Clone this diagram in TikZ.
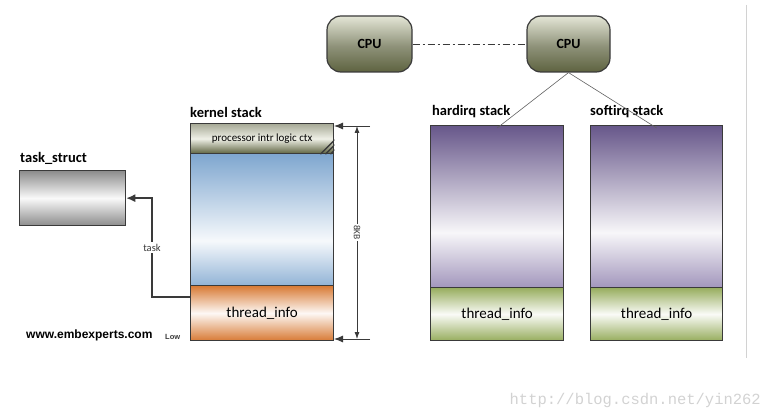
\documentclass[tikz,border=0pt]{standalone}
\usepackage{fontspec}
\setmainfont{Carlito}
\newfontfamily\webfont{Liberation Sans}
\newfontfamily\wmfont{Liberation Mono}
\usetikzlibrary{arrows.meta}

\definecolor{olivedk}{HTML}{5E6340}
\definecolor{olivelt}{HTML}{E4E6D6}
\definecolor{bluestk}{HTML}{7EA6CF}
\definecolor{orangeti}{HTML}{D87A35}
\definecolor{purpdk}{HTML}{67578A}
\definecolor{purplt}{HTML}{A296BC}
\definecolor{greenti}{HTML}{97AD5E}
\definecolor{grayts}{HTML}{8C8C8C}
\definecolor{edge}{HTML}{3A3A3A}

% shadings, bottom (25bp) to top (75bp) of the node
\pgfdeclareverticalshading{cpushade}{100bp}{color(0bp)=(olivedk); color(25bp)=(olivedk); color(48bp)=(olivedk!70!white); color(75bp)=(olivelt); color(100bp)=(olivelt)}
\pgfdeclareverticalshading{ctxshade}{100bp}{color(0bp)=(olivedk); color(25bp)=(olivedk); color(50bp)=(olivelt!60!white); color(75bp)=(olivedk!55!white); color(100bp)=(olivedk!55!white)}
\pgfdeclareverticalshading{blueshade}{100bp}{color(0bp)=(bluestk!85); color(25bp)=(bluestk!85); color(42bp)=(white!93!bluestk); color(75bp)=(bluestk); color(100bp)=(bluestk)}
\pgfdeclareverticalshading{orangeshade}{100bp}{color(0bp)=(orangeti); color(25bp)=(orangeti); color(50bp)=(white!95!orangeti); color(75bp)=(orangeti); color(100bp)=(orangeti)}
\pgfdeclareverticalshading{purpshade}{100bp}{color(0bp)=(purplt); color(25bp)=(purplt); color(42bp)=(white!95!purpdk); color(75bp)=(purpdk); color(100bp)=(purpdk)}
\pgfdeclareverticalshading{greenshade}{100bp}{color(0bp)=(greenti); color(25bp)=(greenti); color(50bp)=(white!95!greenti); color(75bp)=(greenti); color(100bp)=(greenti)}
\pgfdeclareverticalshading{grayshade}{100bp}{color(0bp)=(grayts); color(25bp)=(grayts); color(50bp)=(white!95!grayts); color(75bp)=(grayts); color(100bp)=(grayts)}

\tikzset{
  part/.style={draw=edge, line width=1.3pt, inner sep=0pt, anchor=north west,
    font=\fontsize{15}{17}\selectfont},
  cpubox/.style={draw=edge, line width=1.2pt, rounded corners=14pt, shading=cpushade,
    minimum height=56pt, font=\bfseries\fontsize{14}{16}\selectfont},
  title/.style={anchor=south west, inner sep=0pt, font=\bfseries\fontsize{14.5}{16}\selectfont},
}

\begin{document}
\begin{tikzpicture}[x=1pt,y=-1pt]
\useasboundingbox (0,0) rectangle (772,417);

% cpus
\node[cpubox, minimum width=85pt] (cpuA) at (369.5,44) {CPU};
\node[cpubox, minimum width=83pt] (cpuB) at (568.5,44) {CPU};
\draw[edge, line width=0.8pt, dash pattern=on 7pt off 3pt on 2pt off 3pt] (cpuA) -- (cpuB);

% kernel stack
\node[title] (klabel) at (190,118) {kernel stack};
\node[part, shading=ctxshade, minimum width=143pt, minimum height=30pt,
  font=\fontsize{11}{12}\selectfont] (ctx) at (190,123) {processor intr logic ctx};
\node[part, shading=blueshade, minimum width=143pt, minimum height=132pt] (kbody) at (190,153) {};
\node[part, shading=orangeshade, minimum width=143pt, minimum height=55pt] (kti) at (190,285) {thread\_info};
\begin{scope}
\clip (ctx.south east) -- ++(-17,0) -- ++(17,-17) -- cycle;
\foreach \d in {4,9,14}
  \draw[edge, line width=1.3pt] ([xshift=-\d pt]ctx.south east) -- ++(18,-18);
\end{scope}

% 8KB dimension
\coordinate (dimTop) at (357,126);
\coordinate (dimBot) at (357,339);
\draw[edge, line width=0.9pt, -{Latex[length=9pt,width=7pt]}] (370,126) -- (334,126);
\draw[edge, line width=0.9pt, -{Latex[length=9pt,width=7pt]}] (370,339) -- (334,339);
\draw[edge, line width=0.8pt, {Latex[length=7pt,width=5pt]}-{Latex[length=7pt,width=5pt]}] (dimTop) --
  node[fill=white, inner sep=1pt, rotate=-90, font=\fontsize{9.5}{10}\selectfont] (dimlabel) {8KB} (dimBot);

% task_struct
\node[title] (tlabel) at (20,165) {task\_struct};
\node[part, shading=grayshade, minimum width=106pt, minimum height=55pt] (task) at (19,170) {};
\coordinate (kout) at (190,297);
\coordinate (bend) at (152,297);
\draw[edge, line width=1.3pt, -{Latex[length=9pt,width=8pt]}] (kout) -- (bend) --
  node[fill=white, inner sep=1.5pt, font=\fontsize{10.5}{12}\selectfont] (tasklabel) {task} (bend |- task.east) -- (task.east);

% bottom left text
\node[anchor=base west, inner sep=0pt, font=\webfont\bfseries\fontsize{12}{14}\selectfont] (web) at (26,338) {www.embexperts.com};
\node[anchor=base west, inner sep=0pt, font=\webfont\bfseries\fontsize{7.5}{9}\selectfont, text=edge] (low) at (165,339) {Low};

% irq stacks
\node[title] (hlabel) at (432,118) {hardirq stack};
\node[part, shading=purpshade, minimum width=133pt, minimum height=162pt] (hard) at (430,125) {};
\node[part, shading=greenshade, minimum width=133pt, minimum height=53pt] (hardti) at (430,287) {thread\_info};
\node[title] (slabel) at (590,118) {softirq stack};
\node[part, shading=purpshade, minimum width=132pt, minimum height=162pt] (soft) at (590,125) {};
\node[part, shading=greenshade, minimum width=132pt, minimum height=53pt] (softti) at (590,287) {thread\_info};
\draw[edge!80, line width=0.6pt] (cpuB.south) -- ([yshift=-3pt]hard.north);
\draw[edge!80, line width=0.6pt] (cpuB.south) -- ([yshift=-3pt]soft.north);

% frame line and watermark
\draw[gray!35, line width=0.8pt] (746,5) -- (746,358);
\node[anchor=base east, inner sep=0pt, text=gray!35, font=\wmfont\fontsize{15.5}{17}\selectfont] (wm) at (761,404) {http://blog.csdn.net/yin262};
\end{tikzpicture}
\end{document}
